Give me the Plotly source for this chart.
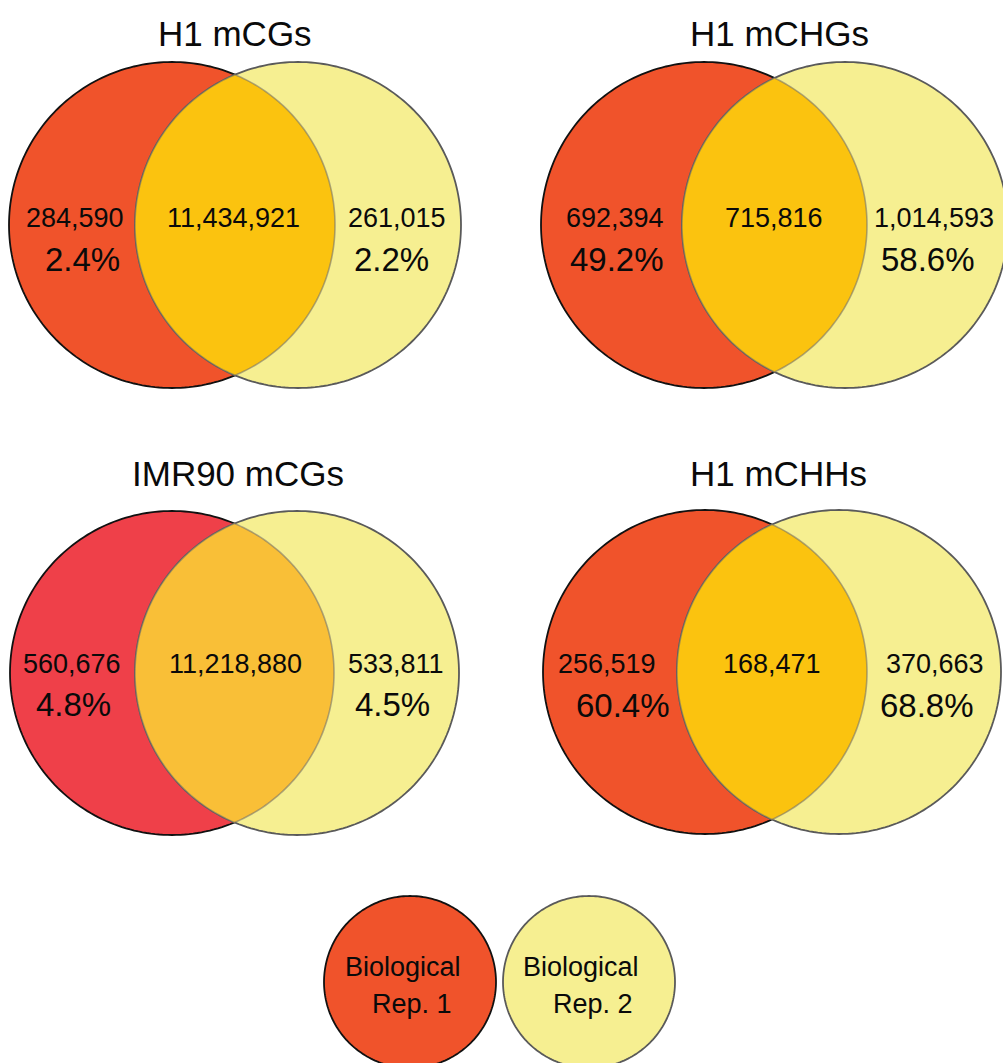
import numpy as np
import plotly.graph_objects as go

# ---- data -------------------------------------------------------------
panel_titles = ["H1 mCGs", "H1 mCHGs", "IMR90 mCGs", "H1 mCHHs"]
rep1_only = ["284,590", "692,394", "560,676", "256,519"]
shared = ["11,434,921", "715,816", "11,218,880", "168,471"]
rep2_only = ["261,015", "1,014,593", "533,811", "370,663"]
rep1_pct = ["2.4%", "49.2%", "4.8%", "60.4%"]
rep2_pct = ["2.2%", "58.6%", "4.5%", "68.8%"]
legend_labels = [["Biological", "Rep. 1"], ["Biological", "Rep. 2"]]

# ---- layout / style ---------------------------------------------------
W, H = 1003, 1063
FONT = "Liberation Sans, Arial, Helvetica, sans-serif"
INK = "#0a0a0a"

# per panel: (left circle cx, right circle cx, cy, radius, title x, title y)
panel_geom = [
    (172, 298, 225, 163, 235, 33),
    (704, 845, 225, 163, 779, 33),
    (172, 297, 673, 162, 238, 473),
    (705, 839, 672, 162, 778, 473),
]
# text anchor positions per panel: (rep1 count x, rep1 pct x, shared x,
#                                   rep2 count x, rep2 pct x, count y, pct y)
text_pos = [
    (75, 82, 233, 397, 391, 218, 259),
    (615, 617, 774, 934, 928, 218, 259),
    (72, 73, 235, 396, 392, 664, 704),
    (607, 623, 772, 935, 927, 664, 705),
]
rep1_colors = ["#F0532B", "#F0532B", "#EF4049", "#F0532B"]
lens_colors = ["#FBC30F", "#FBC30F", "#F9BF37", "#FBC30F"]
REP2_COLOR = "#F6EF91"
REP1_LINE = "#111111"
REP2_LINE = "#5a5a5a"
LENS_LINE = "rgba(110,110,110,0.55)"

legend_geom = [(410, 982, 86), (589, 982, 86)]
legend_text_x = [[403, 412], [581, 593]]
legend_text_y = [967, 1004]

COUNT_SIZE = 27
PCT_SIZE = 33
TITLE_SIZE = 35
LEGEND_SIZE = 27


def circle_path(cx, cy, r, n=240):
    t = np.linspace(0, 2 * np.pi, n, endpoint=False)
    pts = [f"{cx + r * np.cos(a):.2f},{cy + r * np.sin(a):.2f}" for a in t]
    return "M" + " L".join(pts) + " Z"


def lens_path(x1, x2, cy, r, n=120):
    # intersection of two equal circles centred at (x1, cy) and (x2, cy)
    d = x2 - x1
    h = np.sqrt(r * r - (d / 2) ** 2)
    a = np.arctan2(h, d / 2)
    # right boundary: arc of the left circle
    t1 = np.linspace(-a, a, n)
    right = [(x1 + r * np.cos(t), cy + r * np.sin(t)) for t in t1]
    # left boundary: arc of the right circle
    t2 = np.linspace(np.pi - a, np.pi + a, n)
    left = [(x2 + r * np.cos(t), cy + r * np.sin(t)) for t in t2]
    pts = right + left
    return "M" + " L".join(f"{x:.2f},{y:.2f}" for x, y in pts) + " Z"


fig = go.Figure()
# invisible trace to establish the axes
fig.add_trace(go.Scatter(x=[0, W], y=[0, H], mode="markers",
                         marker=dict(opacity=0), hoverinfo="skip",
                         showlegend=False))

shapes = []
annotations = []

for i in range(4):
    x1, x2, cy, r, tx, ty = panel_geom[i]
    shapes.append(dict(type="path", path=circle_path(x1, cy, r),
                       fillcolor=rep1_colors[i],
                       line=dict(color=REP1_LINE, width=1.8), layer="above"))
    shapes.append(dict(type="path", path=circle_path(x2, cy, r),
                       fillcolor=REP2_COLOR,
                       line=dict(color=REP2_LINE, width=1.8), layer="above"))
    shapes.append(dict(type="path", path=lens_path(x1, x2, cy, r),
                       fillcolor=lens_colors[i],
                       line=dict(color=LENS_LINE, width=1.6), layer="above"))

    annotations.append(dict(x=tx, y=ty, text=panel_titles[i], showarrow=False,
                            font=dict(family=FONT, size=TITLE_SIZE, color=INK),
                            xanchor="center", yanchor="middle"))
    c1x, p1x, sx, c2x, p2x, cyy, pyy = text_pos[i]
    for x, y, txt, size in [
        (c1x, cyy, rep1_only[i], COUNT_SIZE),
        (p1x, pyy, rep1_pct[i], PCT_SIZE),
        (sx, cyy, shared[i], COUNT_SIZE),
        (c2x, cyy, rep2_only[i], COUNT_SIZE),
        (p2x, pyy, rep2_pct[i], PCT_SIZE),
    ]:
        annotations.append(dict(x=x, y=y, text=txt, showarrow=False,
                                font=dict(family=FONT, size=size, color=INK),
                                xanchor="center", yanchor="middle"))

# legend circles
legend_fills = [rep1_colors[0], REP2_COLOR]
legend_lines = [REP1_LINE, REP2_LINE]
for k, (cx, cy, r) in enumerate(legend_geom):
    shapes.append(dict(type="path", path=circle_path(cx, cy, r),
                       fillcolor=legend_fills[k],
                       line=dict(color=legend_lines[k], width=1.8),
                       layer="above"))
    for j, line_txt in enumerate(legend_labels[k]):
        annotations.append(dict(x=legend_text_x[k][j], y=legend_text_y[j],
                                text=line_txt, showarrow=False,
                                font=dict(family=FONT, size=LEGEND_SIZE,
                                          color=INK),
                                xanchor="center", yanchor="middle"))

fig.update_layout(
    width=W, height=H, autosize=False,
    margin=dict(l=0, r=0, t=0, b=0),
    paper_bgcolor="white", plot_bgcolor="white",
    xaxis=dict(range=[0, W], visible=False, fixedrange=True),
    yaxis=dict(range=[H, 0], visible=False, fixedrange=True),
    shapes=shapes, annotations=annotations,
    showlegend=False,
)

fig.write_html("out.html", config={"displayModeBar": False})
